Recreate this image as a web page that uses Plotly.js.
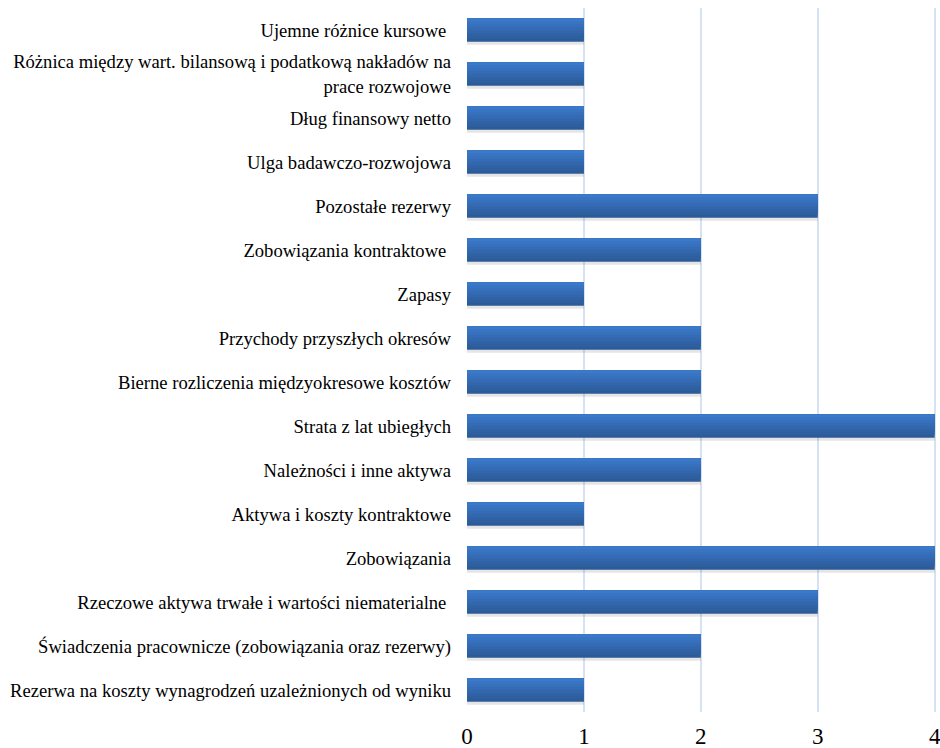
<!DOCTYPE html>
<html><head><meta charset="utf-8">
<script src="https://cdn.plot.ly/plotly-3.0.1.min.js"></script>
<style>body{margin:0;background:#fff}#c{width:940px;height:748px}</style>
</head><body><div id="c"></div>
<script>
const categories = [
  "Ujemne różnice kursowe ",
  "Różnica między wart. bilansową i podatkową nakładów na<br>prace rozwojowe",
  "Dług finansowy netto",
  "Ulga badawczo-rozwojowa",
  "Pozostałe rezerwy",
  "Zobowiązania kontraktowe ",
  "Zapasy",
  "Przychody przyszłych okresów",
  "Bierne rozliczenia międzyokresowe kosztów",
  "Strata z lat ubiegłych",
  "Należności i inne aktywa",
  "Aktywa i koszty kontraktowe",
  "Zobowiązania",
  "Rzeczowe aktywa trwałe i wartości niematerialne ",
  "Świadczenia pracownicze (zobowiązania oraz rezerwy)",
  "Rezerwa na koszty wynagrodzeń uzależnionych od wyniku"
];
const values = [1,1,1,1,3,2,1,2,2,4,2,1,4,3,2,1];
const xTicks = [0,1,2,3,4];

const W = 0.53;
const SERIF = '"Liberation Serif", "Times New Roman", Times, serif';
// gradient layers: [colour, fraction of bar height from top]
const layers = [
  ['#2c5b98', 1.0],
  ['#2e5f9f', 0.875],
  ['#3063a6', 0.75],
  ['#3267ad', 0.625],
  ['#346bb4', 0.5],
  ['#3670bb', 0.375],
  ['#3874c2', 0.25],
  ['#3b79c9', 0.125]
];
const shadow = {
  type: 'bar', orientation: 'h', x: values, y: categories,
  width: W, offset: -W/2 + 0.07,
  marker: {color: 'rgba(0,0,0,0.10)', line: {width: 0}}, hoverinfo: 'skip'
};
const traces = [shadow].concat(layers.map(([c, f]) => ({
  type: 'bar', orientation: 'h', x: values, y: categories,
  width: W * f, offset: -W/2,
  marker: {color: c, line: {width: 0}}, hoverinfo: 'x+y'
})));

const layout = {
  width: 940, height: 748,
  margin: {l: 467, r: 3, t: 8, b: 36},
  paper_bgcolor: '#fff', plot_bgcolor: '#fff',
  barmode: 'overlay',
  showlegend: false,
  font: {family: SERIF, color: '#000'},
  xaxis: {
    range: [0, 4.02], tickvals: xTicks, ticktext: xTicks.map(String),
    showgrid: true, gridcolor: '#d6e2f3', gridwidth: 2,
    zeroline: false, showline: false, ticks: '',
    tickfont: {size: 23, family: SERIF, color: '#000'},
    ticklabelstandoff: 8,
    ticklabeloverflow: 'allow'
  },
  yaxis: {
    autorange: 'reversed', type: 'category',
    showgrid: false, zeroline: false, showline: false, ticks: '',
    tickfont: {size: 18.6, family: SERIF, color: '#000'},
    ticklabelstandoff: 15
  }
};
Plotly.newPlot('c', traces, layout, {displayModeBar: false, staticPlot: true});
</script></body></html>
